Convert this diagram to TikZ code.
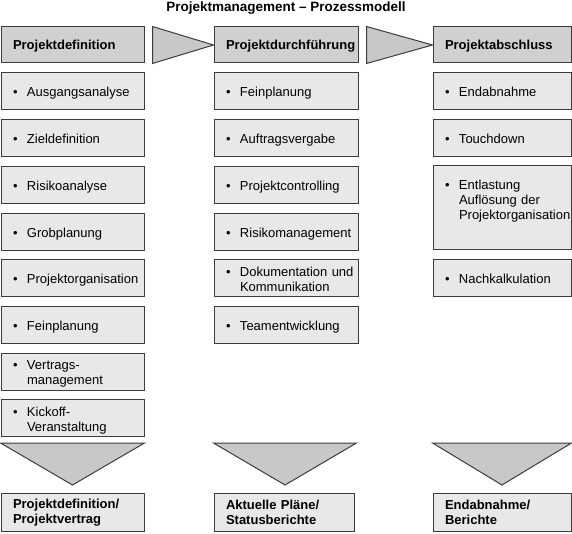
\documentclass[tikz,border=0pt]{standalone}
\usepackage{fontspec}
\setmainfont{Liberation Sans}
\usepackage{tikz}
\definecolor{boxline}{HTML}{3C3C3C}
\definecolor{headgray}{HTML}{D0D0D0}
\definecolor{itemgray}{HTML}{E8E8E8}
\definecolor{wedgegray}{HTML}{C8C8C8}
\newcommand{\bul}[1]{\makebox[14pt][l]{\textbullet}\begin{tabular}[t]{@{}l@{}}\rule{0pt}{15.5pt}#1\end{tabular}}
\newcommand{\pfont}{\fontsize{13}{15}\selectfont}

\begin{document}
\begin{tikzpicture}[x=1pt,y=1pt]

\tikzstyle{headbox} = [draw=boxline, line width=1pt, fill=headgray, font=\pfont\bfseries, align=left, inner xsep=12pt, minimum height=36pt, text height=12.5pt, text depth=2.7pt]
\tikzstyle{itembox} = [draw=boxline, line width=1pt, fill=itemgray, font=\pfont, align=left, inner xsep=12pt, inner ysep=0pt, minimum height=37pt]
\tikzstyle{outbox} = [draw=boxline, line width=1pt, fill=itemgray, font=\pfont\bfseries, align=left, inner xsep=12pt, minimum height=38pt]
\tikzstyle{wedge} = [draw=boxline, line width=1pt, fill=wedgegray, line join=miter]

\tikzset{
  col left/.style={text width=119pt},
  col mid/.style={text width=120pt},
  col right/.style={text width=114pt},
}

\useasboundingbox (0,0) rectangle (572,533);
\coordinate (anchor) at (0,0);

%Title

\path (anchor)+(286,521) node (title) [anchor=base, font=\fontsize{13.5}{16}\selectfont\bfseries] {Projektmanagement – Prozessmodell};

%Projektdefinition: left column

\path (anchor)+(72.5,488) node (pd_head) [headbox, col left] {Projektdefinition};
\path (pd_head)+(0,-46.5) node (pd_1) [itembox, col left] {\bul{Ausgangsanalyse}};
\path (pd_1)+(0,-46.7) node (pd_2) [itembox, col left] {\bul{Zieldefinition}};
\path (pd_2)+(0,-46.7) node (pd_3) [itembox, col left] {\bul{Risikoanalyse}};
\path (pd_3)+(0,-46.7) node (pd_4) [itembox, col left] {\bul{Grobplanung}};
\path (pd_4)+(0,-46.7) node (pd_5) [itembox, col left] {\bul{Projektorganisation}};
\path (pd_5)+(0,-46.7) node (pd_6) [itembox, col left] {\bul{Feinplanung}};
\path (pd_6)+(0,-46.7) node (pd_7) [itembox, col left] {\bul{Vertrags-\\management}};
\path (pd_7)+(0,-46.7) node (pd_8) [itembox, col left] {\bul{Kickoff-\\Veranstaltung}};

\path (anchor)+(72.5,20.5) node (pd_out) [outbox, col left] {Projektdefinition/\\Projektvertrag};

%Projektdurchfuehrung: middle column

\path (anchor)+(286,488) node (pf_head) [headbox, col mid] {Projektdurchführung};
\path (pf_head)+(0,-46.5) node (pf_1) [itembox, col mid] {\bul{Feinplanung}};
\path (pf_1)+(0,-46.7) node (pf_2) [itembox, col mid] {\bul{Auftragsvergabe}};
\path (pf_2)+(0,-46.7) node (pf_3) [itembox, col mid] {\bul{Projektcontrolling}};
\path (pf_3)+(0,-46.7) node (pf_4) [itembox, col mid] {\bul{Risikomanagement}};
\path (pf_4)+(0,-46.7) node (pf_5) [itembox, col mid] {\bul{Dokumentation und\\Kommunikation}};
\path (pf_5)+(0,-46.7) node (pf_6) [itembox, col mid] {\bul{Teamentwicklung}};

\path (anchor)+(284,20.5) node (pf_out) [outbox, text width=116pt] {Aktuelle Pläne/\\Statusberichte};

%Projektabschluss: right column

\path (anchor)+(502,488) node (ab_head) [headbox, col right] {Projektabschluss};
\path (ab_head)+(0,-46.5) node (ab_1) [itembox, col right] {\bul{Endabnahme}};
\path (ab_1)+(0,-46.7) node (ab_2) [itembox, col right] {\bul{Touchdown}};
\path (ab_2)+(0,-69.8) node (ab_3) [itembox, col right, minimum height=84pt] {\bul{Entlastung\\Auflösung der\\Projektorganisation}\rule[-52pt]{0pt}{1pt}};
\path (ab_3)+(0,-70.3) node (ab_4) [itembox, col right] {\bul{Nachkalkulation}};

\path (anchor)+(502,20.5) node (ab_out) [outbox, col right] {Endabnahme/\\Berichte};

%Wedges between the phases

\path[wedge] ([xshift=8pt]pd_head.north east) -- ([xshift=8pt]pd_head.south east) -- (pf_head.west) -- cycle;
\path[wedge] ([xshift=8pt]pf_head.north east) -- ([xshift=8pt]pf_head.south east) -- (ab_head.west) -- cycle;

%Wedges down to the results

\path[wedge] ([yshift=50pt]pd_out.north west) -- ([yshift=50pt]pd_out.north east) -- ([yshift=8pt]pd_out.north) -- cycle;
\path[wedge] ([yshift=50pt]pf_out.north west) -- ([xshift=2pt,yshift=50pt]pf_out.north east) -- ([xshift=1pt,yshift=8pt]pf_out.north) -- cycle;
\path[wedge] ([yshift=50pt]ab_out.north west) -- ([yshift=50pt]ab_out.north east) -- ([yshift=8pt]ab_out.north) -- cycle;

\end{tikzpicture}
\end{document}
